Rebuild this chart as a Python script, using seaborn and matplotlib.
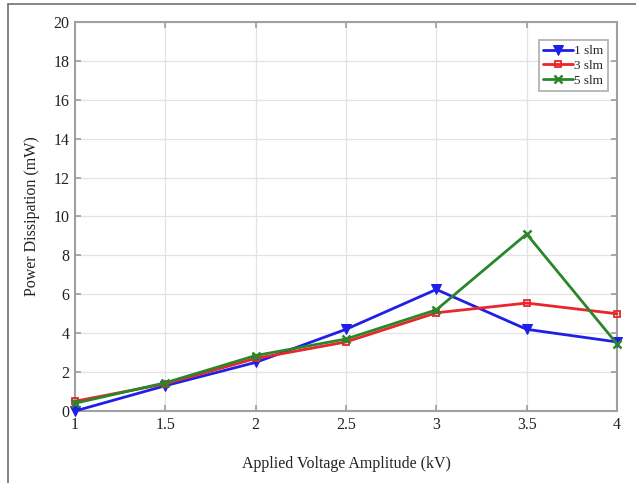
import matplotlib
matplotlib.use("Agg")
import matplotlib.pyplot as plt
import seaborn as sns
import pandas as pd
from matplotlib.lines import Line2D

voltage = [1, 1.5, 2, 2.5, 3, 3.5, 4]
slm1 = [0.0, 1.3, 2.5, 4.2, 6.25, 4.2, 3.55]
slm3 = [0.5, 1.4, 2.7, 3.55, 5.05, 5.55, 5.0]
slm5 = [0.4, 1.45, 2.85, 3.7, 5.2, 9.1, 3.45]
labels = ["1 slm", "3 slm", "5 slm"]
xticks = [1, 1.5, 2, 2.5, 3, 3.5, 4]
yticks = list(range(0, 21, 2))

sns.set_theme(style="whitegrid")
plt.rcParams["font.family"] = ["Liberation Serif", "DejaVu Serif"]

fig = plt.figure(figsize=(6.36, 4.83), dpi=100)
ax = fig.add_axes([75/636, 1-411/483, (617-75)/636, (411-22)/483])

styles = [
    dict(color="#1f1fe6", marker="v", markersize=7, markerfacecolor="#1f1fe6", markeredgecolor="#1f1fe6"),
    dict(color="#e8262c", marker="s", markersize=5, markerfacecolor="none", markeredgecolor="#e8262c", markeredgewidth=1.3),
    dict(color="#2a862a", marker="x", markersize=6, markeredgecolor="#2a862a", markeredgewidth=1.8),
]
for lab, vals, st in zip(labels, [slm1, slm3, slm5], styles):
    df = pd.DataFrame({"x": voltage, "y": vals})
    sns.lineplot(data=df, x="x", y="y", ax=ax, linewidth=2, label=lab, clip_on=False, zorder=3, **st)

ax.set_xlim(1, 4)
ax.set_ylim(0, 20)
ax.set_xticks(xticks)
ax.set_xticklabels([f"{t:g}" for t in xticks])
ax.set_yticks(yticks)
ax.grid(True, color="#e3e3e3", linewidth=0.9)
for s in ax.spines.values():
    s.set_visible(True)
    s.set_color("#a0a0a0")
    s.set_linewidth(1.5)
ax.tick_params(axis="both", direction="in", length=4, color="#a0a0a0", labelsize=11.5,
               labelcolor="#222222", top=True, right=True, bottom=True, left=True, pad=4)
ax.set_xlabel("Applied Voltage Amplitude (kV)", fontsize=11.5, color="#222222", labelpad=17)
ax.set_ylabel("Power Dissipation (mW)", fontsize=11.5, color="#222222", labelpad=10)

leg = ax.legend(loc="upper right", fontsize=9.5, frameon=True, fancybox=False,
                handlelength=2.2, handletextpad=0.1, borderpad=0.35, labelspacing=0.2,
                bbox_to_anchor=(0.995, 0.97))
leg.get_frame().set_edgecolor("#a0a0a0")
leg.get_frame().set_linewidth(1.3)

# outer figure border (top and left)
fig.add_artist(Line2D([8/636, 1], [1-4/483, 1-4/483], transform=fig.transFigure, color="#707070", linewidth=1.2))
fig.add_artist(Line2D([8/636, 8/636], [0, 1-4/483], transform=fig.transFigure, color="#707070", linewidth=1.2))

fig.savefig("out.png", dpi=100)
